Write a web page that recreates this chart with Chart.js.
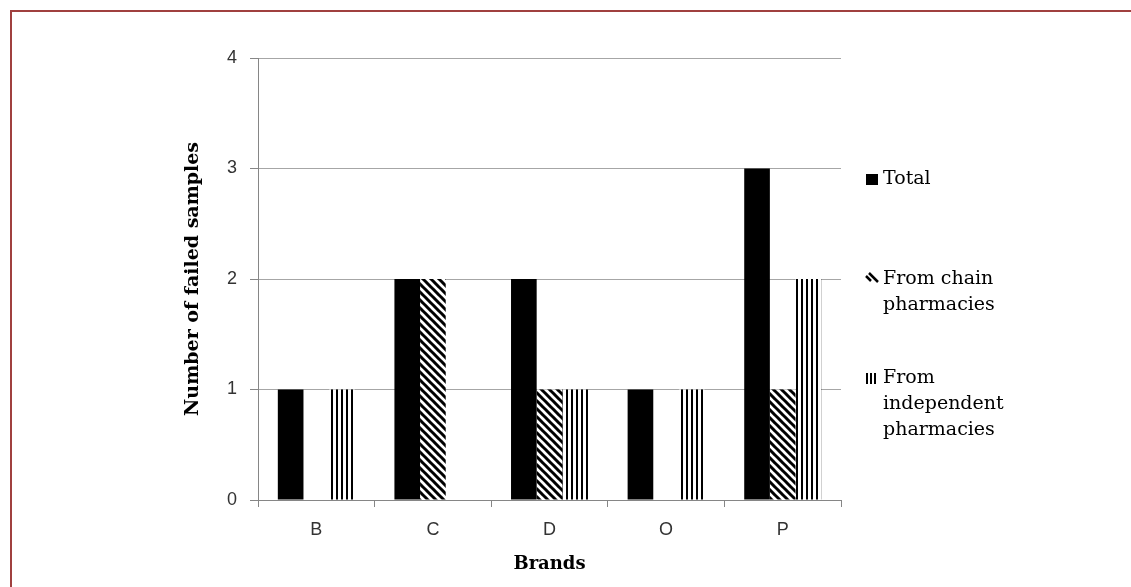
<!DOCTYPE html>
<html>
<head>
<meta charset="utf-8">
<script src="https://cdn.jsdelivr.net/npm/chart.js@4.4.1/dist/chart.umd.min.js"></script>
<style>
  html, body { margin: 0; padding: 0; background: #fff; }
  #wrap { width: 1131px; height: 587px; position: relative; }
</style>
</head>
<body>
<div id="wrap"><canvas id="c" width="1131" height="587"></canvas></div>
<script>
const categories = ['B', 'C', 'D', 'O', 'P'];
const totalValues = [1, 2, 2, 1, 3];
const chainValues = [0, 2, 1, 0, 1];
const independentValues = [1, 0, 1, 1, 2];
const seriesNames = ['Total', 'From chain pharmacies', 'From independent pharmacies'];
const legendLines = [['Total'], ['From chain', 'pharmacies'], ['From', 'independent', 'pharmacies']];
const yTicks = [0, 1, 2, 3, 4];
const xTitle = 'Brands';
const yTitle = 'Number of failed samples';

function diagPattern() {
  const s = 8;
  const c = document.createElement('canvas');
  c.width = s; c.height = s;
  const g = c.getContext('2d');
  g.fillStyle = '#fff'; g.fillRect(0, 0, s, s);
  g.strokeStyle = '#000'; g.lineWidth = 3;
  g.beginPath();
  for (const k of [-s, 0, s]) { g.moveTo(k - 1, -1); g.lineTo(k + s + 1, s + 1); }
  g.stroke();
  return g.createPattern(c, 'repeat');
}
function vertPattern() {
  const c = document.createElement('canvas');
  c.width = 5; c.height = 5;
  const g = c.getContext('2d');
  g.fillStyle = '#fff'; g.fillRect(0, 0, 5, 5);
  g.fillStyle = '#000'; g.fillRect(1, 0, 2, 5);
  return g.createPattern(c, 'repeat');
}
const pDiag = diagPattern();
const pVert = vertPattern();
const fills = ['#000', pDiag, pVert];

const decor = {
  id: 'decor',
  beforeDraw(chart) {
    const ctx = chart.ctx;
    ctx.save();
    ctx.fillStyle = '#fff';
    ctx.fillRect(0, 0, chart.width, chart.height);
    ctx.restore();
  },
  afterDraw(chart) {
    const ctx = chart.ctx;
    const a = chart.chartArea;
    ctx.save();
    // frame
    ctx.strokeStyle = '#a0403f';
    ctx.lineWidth = 2;
    ctx.beginPath();
    ctx.moveTo(11, chart.height + 2);
    ctx.lineTo(11, 11);
    ctx.lineTo(chart.width + 2, 11);
    ctx.stroke();
    // axis titles
    ctx.fillStyle = '#000';
    ctx.font = 'bold 18px "DejaVu Serif"';
    ctx.textAlign = 'center';
    ctx.textBaseline = 'middle';
    ctx.fillText(xTitle, (a.left + a.right) / 2, 564);
    ctx.save();
    ctx.translate(193, (a.top + a.bottom) / 2);
    ctx.rotate(-Math.PI / 2);
    ctx.font = 'bold 19px "DejaVu Serif"';
    ctx.fillText(yTitle, 0, 0);
    ctx.restore();
    // legend
    const starts = [179, 279, 378];
    ctx.font = '19px "DejaVu Serif"';
    ctx.textAlign = 'left';
    ctx.textBaseline = 'middle';
    for (let i = 0; i < seriesNames.length; i++) {
      const y0 = starts[i];
      ctx.fillStyle = fills[i];
      if (i === 0) ctx.fillRect(866, y0 - 5, 12, 11);
      else if (i === 1) {
        ctx.strokeStyle = '#000'; ctx.lineWidth = 2.5;
        ctx.beginPath();
        ctx.moveTo(866, y0 - 3); ctx.lineTo(871, y0 + 2);
        ctx.moveTo(869, y0 - 6); ctx.lineTo(878, y0 + 3);
        ctx.stroke();
      } else {
        ctx.fillStyle = '#000';
        for (let k = 0; k < 3; k++) ctx.fillRect(866 + k * 4, y0 - 5, 2, 11);
      }
      ctx.fillStyle = '#000';
      legendLines[i].forEach((t, j) => ctx.fillText(t, 883, y0 + j * 26));
    }
    ctx.restore();
  }
};

new Chart(document.getElementById('c'), {
  type: 'bar',
  data: {
    labels: categories,
    datasets: [
      { label: seriesNames[0], data: totalValues, backgroundColor: fills[0] },
      { label: seriesNames[1], data: chainValues, backgroundColor: fills[1] },
      { label: seriesNames[2], data: independentValues, backgroundColor: fills[2] }
    ]
  },
  options: {
    responsive: false,
    animation: false,
    devicePixelRatio: 1,
    layout: { padding: { left: 0, right: 290, top: 58, bottom: 0 } },
    datasets: { bar: { categoryPercentage: 0.66, barPercentage: 1.0, borderWidth: 0 } },
    plugins: { legend: { display: false }, tooltip: { enabled: false } },
    scales: {
      x: {
        afterFit: s => { s.height = 87; },
        grid: { offset: true, drawOnChartArea: false, drawTicks: true, tickLength: 7, color: '#868686' },
        border: { color: '#868686', width: 1 },
        ticks: { color: '#333', font: { family: '"Liberation Sans"', size: 18 }, padding: 12 }
      },
      y: {
        min: 0, max: 4,
        afterFit: s => { s.width = 258; },
        afterBuildTicks: s => { s.ticks = yTicks.map(v => ({ value: v })); },
        grid: { color: '#a6a6a6', tickLength: 8, tickColor: '#868686' },
        border: { color: '#868686', width: 1 },
        ticks: { color: '#333', font: { family: '"Liberation Sans"', size: 18 }, padding: 13 }
      }
    }
  },
  plugins: [decor]
});
</script>
</body>
</html>
